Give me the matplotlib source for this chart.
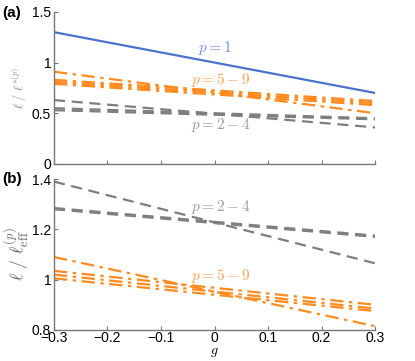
import matplotlib
matplotlib.use("Agg")
import matplotlib.pyplot as plt
import numpy as np

plt.rcParams['font.family'] = ['Liberation Sans', 'DejaVu Sans']
plt.rcParams['mathtext.fontset'] = 'cm'

g = [-0.3, 0.3]

# Panel (a): l / l*(p)
a_p1 = [1.30, 0.70]
a_p24 = [[0.63, 0.36], [0.55, 0.45], [0.53, 0.44]]
a_p59 = [[0.91, 0.50], [0.83, 0.62], [0.81, 0.60], [0.79, 0.58]]

# Panel (b): l / l_eff(p)
b_p24 = [[1.39, 1.065], [1.285, 1.175], [1.28, 1.17]]
b_p59 = [[1.09, 0.815], [1.035, 0.90], [1.02, 0.885], [1.005, 0.875]]

xticks = [-0.3, -0.2, -0.1, 0, 0.1, 0.2, 0.3]
xticklabels = ['\u22120.3', '\u22120.2', '\u22120.1', '0', '0.1', '0.2', '0.3']
a_yticks = [0, 0.5, 1, 1.5]
a_yticklabels = ['0', '0.5', '1', '1.5']
b_yticks = [0.8, 1.0, 1.2, 1.4]
b_yticklabels = ['0.8', '1', '1.2', '1.4']

blue = '#4a72d0'
orange = '#ff8a1e'
gray = '#7f7f7f'
blue_t = '#6c93e0'
orange_t = '#f7a455'
gray_t = '#9a9a9a'
axcol = '#777777'

fig = plt.figure(figsize=(4.15, 3.61), dpi=100)
axa = fig.add_axes([0.130, 0.546, 0.774, 0.421])
axb = fig.add_axes([0.130, 0.086, 0.774, 0.418])

def style(ax):
    for s in ['top', 'right']:
        ax.spines[s].set_visible(False)
    for s in ['left', 'bottom']:
        ax.spines[s].set_color(axcol)
        ax.spines[s].set_linewidth(1.0)
    ax.tick_params(direction='in', length=3, color=axcol, labelsize=10, pad=2)
    ax.set_xlim(-0.3, 0.3)
    ax.set_xticks(xticks)

dash = (0, (5, 3))
dashdot = (0, (6, 2.5, 1.5, 2.5))

style(axa)
axa.plot(g, a_p1, color=blue, lw=1.6, solid_capstyle='butt')
for v in a_p24:
    axa.plot(g, v, color=gray, lw=1.6, linestyle=dash)
for v in a_p59:
    axa.plot(g, v, color=orange, lw=1.6, linestyle=dashdot)
axa.set_ylim(0, 1.5)
axa.set_yticks(a_yticks)
axa.set_yticklabels(a_yticklabels)
axa.set_xticklabels([])
axa.text(0.0, 1.145, r'$p=1$', color=blue_t, fontsize=11, ha='center', va='center')
axa.text(0.012, 0.83, r'$p=5-9$', color=orange_t, fontsize=11, ha='center', va='center')
axa.text(0.012, 0.385, r'$p=2-4$', color=gray_t, fontsize=11, ha='center', va='center')
axa.set_ylabel(r'$\ell\ /\ \ell^{*(p)}$', fontsize=9, color='#888888', labelpad=2)

style(axb)
axb.tick_params(axis='x', pad=1)
for v in b_p24:
    axb.plot(g, v, color=gray, lw=1.6, linestyle=dash)
for v in b_p59:
    axb.plot(g, v, color=orange, lw=1.6, linestyle=dashdot)
axb.set_ylim(0.8, 1.4)
axb.set_yticks(b_yticks)
axb.set_yticklabels(b_yticklabels)
axb.set_xticklabels(xticklabels)
axb.text(0.012, 1.29, r'$p=2-4$', color=gray_t, fontsize=11, ha='center', va='center')
axb.text(0.012, 1.014, r'$p=5-9$', color=orange_t, fontsize=11, ha='center', va='center')
axb.set_ylabel(r'$\ell\ /\ \ell_{\mathrm{eff}}^{(p)}$', fontsize=13, color='#666666', labelpad=0)
axb.set_xlabel(r'$g$', fontsize=10, labelpad=0)

fig.text(0.005, 0.965, '(a)', fontsize=11, fontweight='bold', va='center')
fig.text(0.005, 0.505, '(b)', fontsize=11, fontweight='bold', va='center')

fig.savefig('out.png', dpi=100)
